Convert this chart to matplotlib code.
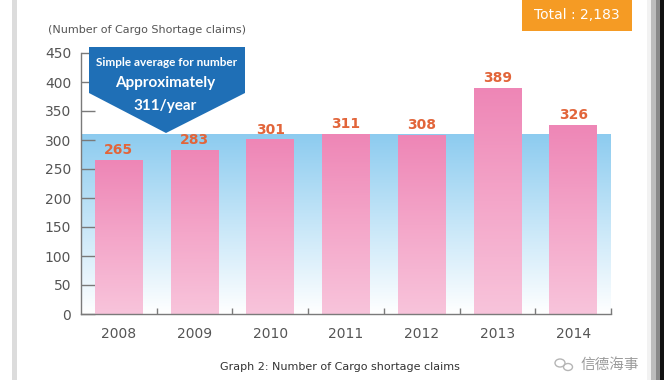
import numpy as np
import matplotlib
matplotlib.use("Agg")
import matplotlib.pyplot as plt
from matplotlib.patches import Rectangle, Polygon, Ellipse
from matplotlib.colors import LinearSegmentedColormap

plt.rcParams['font.family'] = ['DejaVu Sans', 'Noto Sans CJK SC']

years = ["2008", "2009", "2010", "2011", "2012", "2013", "2014"]
claims = [265, 283, 301, 311, 308, 389, 326]
yticks = [0, 50, 100, 150, 200, 250, 300, 350, 400, 450]
average = 311
total = sum(claims)

fig = plt.figure(figsize=(6.7, 3.8), dpi=100)
fig.patch.set_facecolor("white")

# screenshot frame details
fig.add_artist(Rectangle((12/670, 0), 5/670, 1, transform=fig.transFigure,
                         facecolor="#dcdcdc", edgecolor="none"))
grad_cols = ["#f2f2f2", "#bdbdbd", "#8a8a8a"]
for i, c in enumerate(grad_cols):
    fig.add_artist(Rectangle(((647 + i*4.3)/670, 0), 4.4/670, 1, transform=fig.transFigure,
                             facecolor=c, edgecolor="none"))
fig.add_artist(Rectangle((660/670, 0), 3.5/670, 1, transform=fig.transFigure,
                         facecolor="#111111", edgecolor="none"))

ax = fig.add_axes([81/670, 1-314/380, 530/670, 261/380])
ax.set_xlim(-0.5, len(years)-0.5)
ax.set_ylim(0, 450)
ax.set_facecolor("none")

x = np.arange(len(years))

# blue average band with gradient
blue_cmap = LinearSegmentedColormap.from_list("b", ["#ffffff", "#c6e6f8", "#8ccbef"])
grad = np.linspace(0, 1, 256).reshape(-1, 1)
band = Rectangle((-0.5, 0), len(years), average, facecolor="none", edgecolor="none")
ax.add_patch(band)
im = ax.imshow(grad, cmap=blue_cmap, aspect="auto", origin="lower",
               extent=[-0.5, len(years)-0.5, 0, average], zorder=1)
im.set_clip_path(band)

# bars with pink gradient
pink_cmap = LinearSegmentedColormap.from_list("p", ["#f8c4db", "#f4a6c9", "#ee86b6"])
bars = ax.bar(x, claims, width=0.63, color="none", edgecolor="none", zorder=2)
for b, v in zip(bars, claims):
    gi = ax.imshow(grad, cmap=pink_cmap, aspect="auto", origin="lower",
                   extent=[b.get_x(), b.get_x()+b.get_width(), 0, v], zorder=2)
    gi.set_clip_path(b)
    ax.text(b.get_x()+b.get_width()/2, v + 5, str(v), ha="center", va="bottom",
            fontsize=10, fontweight="bold", color="#e2653a", zorder=5)

ax.set_xlim(-0.5, len(years)-0.5)
ax.set_ylim(0, 450)

for s in ["top", "right"]:
    ax.spines[s].set_visible(False)
for s in ["left", "bottom"]:
    ax.spines[s].set_color("#7a7a7a")
    ax.spines[s].set_linewidth(1.0)
    ax.spines[s].set_zorder(4)

ax.set_yticks(yticks)
ax.set_yticklabels([str(t) for t in yticks])
ax.tick_params(axis="y", direction="in", length=10, width=1, color="#7a7a7a",
               labelcolor="#555555", labelsize=10, pad=7)
ax.set_xticks(x)
ax.set_xticklabels(years)
ax.set_xticks(np.arange(len(years)) + 0.5, minor=True)
ax.tick_params(axis="x", which="major", length=0, labelcolor="#555555", labelsize=10, pad=9)
ax.tick_params(axis="x", which="minor", direction="in", length=4, width=1, color="#7a7a7a")

# y axis title
fig.text(48/670, 1-30/380, "(Number of Cargo Shortage claims)", ha="left", va="center",
         fontsize=8, color="#555555")

# callout
to_fig = fig.transFigure
def fx(px): return px/670
def fy(py): return 1 - py/380
callout = Polygon([(fx(89), fy(47)), (fx(245), fy(47)), (fx(245), fy(93)),
                   (fx(166), fy(133)), (fx(89), fy(93))], closed=True,
                  transform=to_fig, facecolor="#1f6fb6", edgecolor="none", zorder=10)
fig.add_artist(callout)
fig.text(fx(167), fy(62), "Simple average for number", ha="center", va="center",
         fontsize=8.5, fontweight="bold", color="white", zorder=11, family="Lato")
fig.text(fx(165), fy(83), "Approximately", ha="center", va="center",
         fontsize=11, fontweight="bold", color="white", zorder=11, family="Lato")
fig.text(fx(165), fy(106), f"{average}/year", ha="center", va="center",
         fontsize=11, fontweight="bold", color="white", zorder=11, family="Lato")

# total box
fig.add_artist(Rectangle((fx(522), fy(31)), 110/670, 31/380, transform=to_fig,
                         facecolor="#f59b24", edgecolor="none", zorder=10))
fig.text(fx(577), fy(15), f"Total : {total:,}", ha="center", va="center",
         fontsize=10, color="white", zorder=11)

# caption
fig.text(fx(340), fy(367), "Graph 2: Number of Cargo shortage claims", ha="center",
         va="center", fontsize=8, color="#333333")

# watermark
fig.add_artist(Ellipse((fx(560), fy(363)), 10/670, 8/380, transform=to_fig,
                       facecolor="none", edgecolor="#b5b5b5", linewidth=1))
fig.add_artist(Ellipse((fx(568), fy(367)), 9/670, 7/380, transform=to_fig,
                       facecolor="none", edgecolor="#b5b5b5", linewidth=1))
fig.text(fx(610), fy(365), "信德海事", ha="center", va="center",
         fontsize=10.5, color="#9a9a9a", family=["Noto Sans CJK SC", "DejaVu Sans"])

fig.savefig("out.png", dpi=100)
